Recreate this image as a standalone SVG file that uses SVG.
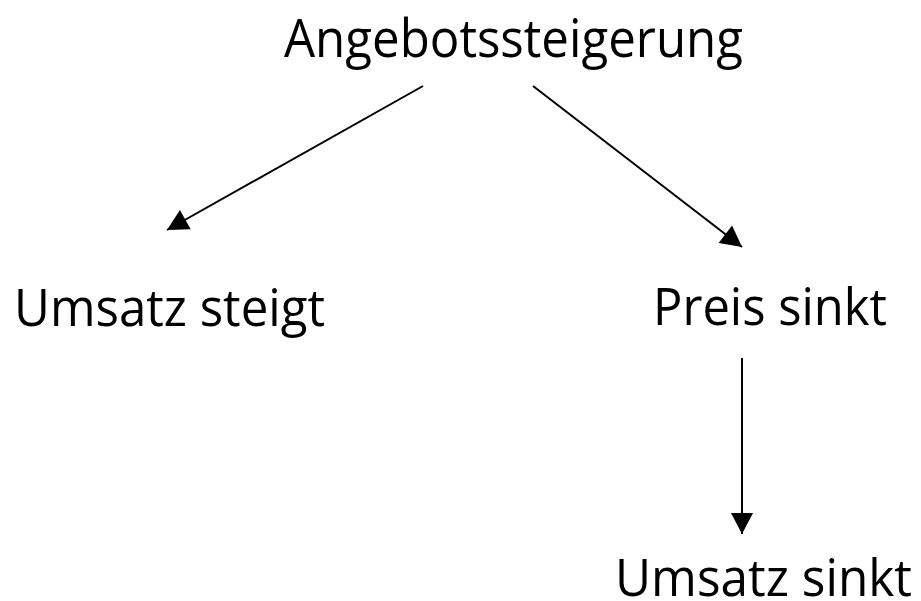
<svg xmlns="http://www.w3.org/2000/svg" width="921" height="601" viewBox="0 0 921 601">
<style>
text{font-family:"Open Sans","Noto Sans","DejaVu Sans",sans-serif;fill:#000}
.t{font-size:53px}
.n{font-size:51px}
.c{stroke:#000;stroke-width:2;fill:none;marker-end:url(#ah)}
</style>
<defs>
<marker id="ah" markerWidth="10" markerHeight="10" refX="10" refY="5" orient="auto" markerUnits="userSpaceOnUse" viewBox="0 0 10 10" overflow="visible">
<path d="M-11,-6 L10,5 L-11,16 Z" fill="#000"/>
</marker>
</defs>
<rect width="921" height="601" fill="#fff"/>
<g id="connectors">
<line class="c" x1="423" y1="86" x2="167" y2="230"/>
<line class="c" x1="533" y1="86" x2="742" y2="247"/>
<line class="c" x1="742" y1="358" x2="742" y2="534"/>
</g>
<g id="n1"><text class="t" x="284" y="57" textLength="459" lengthAdjust="spacingAndGlyphs">Angebotssteigerung</text></g>
<g id="n2"><text class="n" x="14" y="326" textLength="311" lengthAdjust="spacingAndGlyphs">Umsatz steigt</text></g>
<g id="n3"><text class="n" x="653" y="325" textLength="234" lengthAdjust="spacingAndGlyphs">Preis sinkt</text></g>
<g id="n4"><text class="n" x="615" y="596" textLength="297" lengthAdjust="spacingAndGlyphs">Umsatz sinkt</text></g>
</svg>
